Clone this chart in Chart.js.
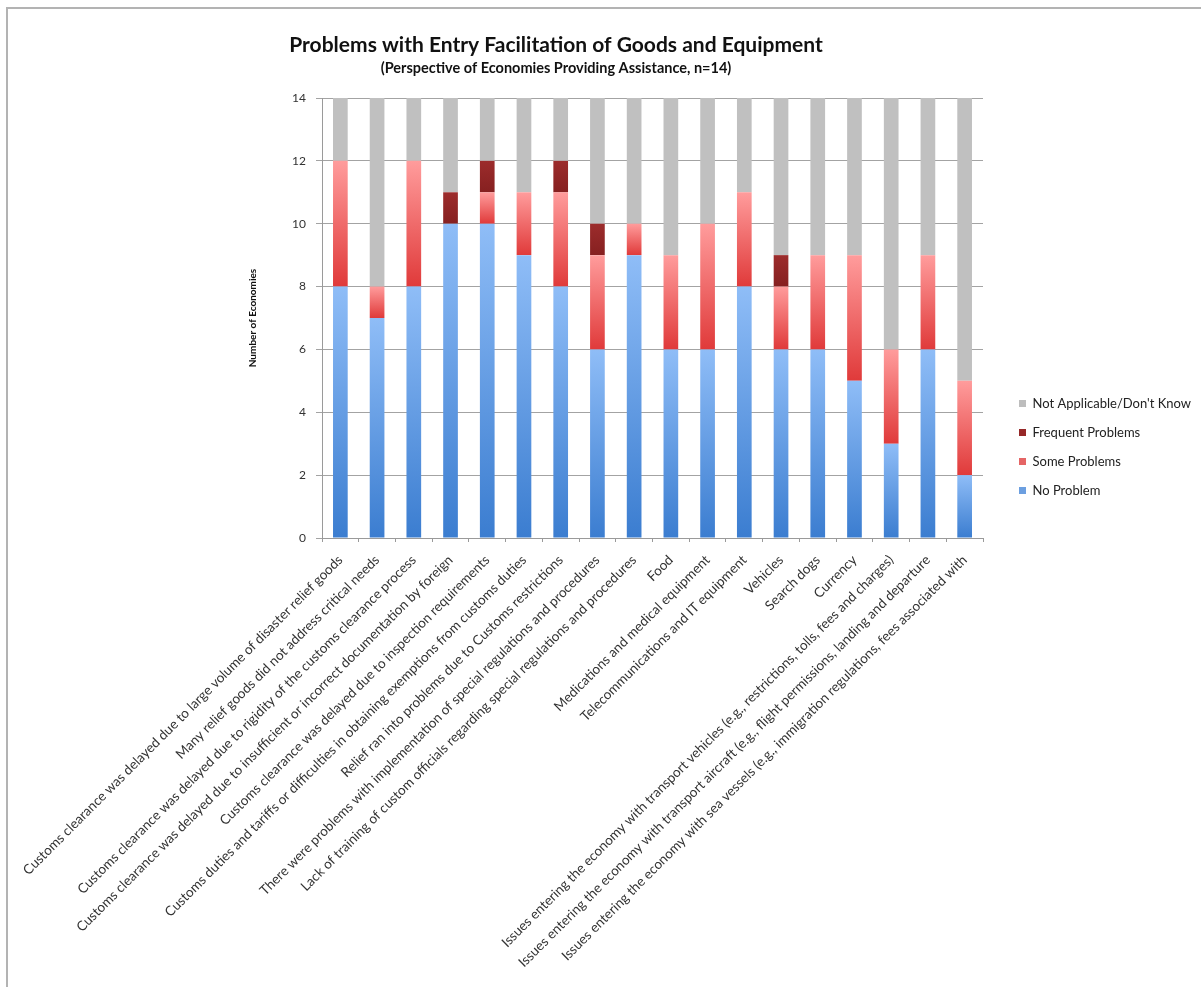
<!DOCTYPE html>
<html>
<head>
<meta charset="utf-8">
<title>Problems with Entry Facilitation of Goods and Equipment</title>
<script src="https://cdn.jsdelivr.net/npm/chart.js@4.4.1/dist/chart.umd.min.js"></script>
<style>
  html, body { margin: 0; padding: 0; background: #fff; overflow: hidden; }
  #wrap { position: relative; width: 1201px; height: 987px; }
  #frame {
    position: absolute; left: 6px; top: 7px; right: -10px; bottom: -10px;
    border-left: 2px solid #b3b3b3; border-top: 2px solid #b3b3b3;
    pointer-events: none;
  }
</style>
</head>
<body>
<div id="wrap">
  <canvas id="chart" width="1201" height="987"></canvas>
  <div id="frame"></div>
</div>
<script>
'use strict';

const chartTitle = 'Problems with Entry Facilitation of Goods and Equipment';
const chartSubtitle = '(Perspective of Economies Providing Assistance, n=14)';

const categories = [
  'Customs clearance was delayed due to large volume of disaster relief goods',
  'Many relief goods did not address critical needs',
  'Customs clearance was delayed due to rigidity of the customs clearance process',
  'Customs clearance was delayed due to insufficient or incorrect documentation by foreign',
  'Customs clearance was delayed due to inspection requirements',
  'Customs duties and tariffs or difficulties in obtaining exemptions from customs duties',
  'Relief ran into problems due to Customs restrictions',
  'There were problems with implementation of special regulations and procedures',
  'Lack of training of custom officials regarding special regulations and procedures',
  'Food',
  'Medications and medical equipment',
  'Telecommunications and IT equipment',
  'Vehicles',
  'Search dogs',
  'Currency',
  'Issues entering the economy with transport vehicles (e.g., restrictions, tolls, fees and charges)',
  'Issues entering the economy with transport aircraft (e.g., flight permissions, landing and departure',
  'Issues entering the economy with sea vessels (e.g., immigration regulations, fees associated with'
];

const noProblem        = [8, 7, 8, 10, 10, 9, 8, 6, 9, 6, 6, 8, 6, 6, 5, 3, 6, 2];
const someProblems     = [4, 1, 4, 0, 1, 2, 3, 3, 1, 3, 4, 3, 2, 3, 4, 3, 3, 3];
const frequentProblems = [0, 0, 0, 1, 1, 0, 1, 1, 0, 0, 0, 0, 1, 0, 0, 0, 0, 0];
const notApplicable    = [2, 6, 2, 3, 2, 3, 2, 4, 4, 5, 4, 3, 5, 5, 5, 8, 5, 9];

const yTicks = [0, 2, 4, 6, 8, 10, 12, 14];

const FONT = 'Lato, "Open Sans", sans-serif';

// vertical gradient spanning each stacked segment on its own
function segmentFill(light, dark) {
  return function (ctx) {
    const chart = ctx.chart;
    const y = chart.scales.y;
    if (ctx.type !== 'data' || !chart.chartArea || !y) return dark;
    let base = 0;
    for (let k = 0; k < ctx.datasetIndex; k++) {
      base += chart.data.datasets[k].data[ctx.dataIndex];
    }
    const top = y.getPixelForValue(base + ctx.raw);
    const bottom = y.getPixelForValue(base);
    if (!isFinite(top) || !isFinite(bottom) || top === bottom) return dark;
    const g = chart.ctx.createLinearGradient(0, top, 0, bottom);
    g.addColorStop(0, light);
    g.addColorStop(1, dark);
    return g;
  };
}

// title + subtitle drawn over the plot
const headline = {
  id: 'headline',
  afterDraw(chart) {
    const c = chart.ctx;
    c.save();
    c.textAlign = 'center';
    c.textBaseline = 'middle';
    c.fillStyle = '#111';
    c.font = 'bold 21px ' + FONT;
    c.fillText(chartTitle, 556, 45);
    c.font = 'bold 14.5px ' + FONT;
    c.fillText(chartSubtitle, 556, 68);
    c.restore();
  }
};

// move the legend off the plot edge, let it run to the canvas edge,
// and centre it a bit above the middle
const legendPlace = {
  id: 'legendPlace',
  afterLayout(chart) {
    const lg = chart.legend;
    if (!lg) return;
    lg.left += 20;
    lg.right = chart.width;
    lg.width = lg.right - lg.left;
    const dy = 447 - (lg.top + lg.bottom) / 2;
    lg.top += dy;
    lg.bottom += dy;
  }
};

const ctx = document.getElementById('chart').getContext('2d');
const chart = new Chart(ctx, {
  type: 'bar',
  data: {
    labels: categories,
    datasets: [
      {
        label: 'No Problem',
        data: noProblem,
        backgroundColor: segmentFill('#8fbdf7', '#3b7dd0'),
        legendColor: '#6c9fe0'
      },
      {
        label: 'Some Problems',
        data: someProblems,
        backgroundColor: segmentFill('#ff9c9c', '#e03a3a'),
        legendColor: '#e56565'
      },
      {
        label: 'Frequent Problems',
        data: frequentProblems,
        backgroundColor: segmentFill('#9c2c2c', '#862020'),
        legendColor: '#962828'
      },
      {
        label: "Not Applicable/Don't Know",
        data: notApplicable,
        backgroundColor: '#c0c0c0',
        legendColor: '#bdbdbd'
      }
    ]
  },
  options: {
    responsive: false,
    animation: false,
    datasets: {
      bar: {
        barPercentage: 0.4,
        categoryPercentage: 1,
        borderWidth: 0
      }
    },
    layout: {
      padding: { left: 243, top: 98, right: 48, bottom: 0 }
    },
    scales: {
      x: {
        stacked: true,
        grid: {
          drawOnChartArea: false,
          drawTicks: true,
          tickLength: 4,
          color: '#9a9a9a'
        },
        border: { color: '#9a9a9a', width: 1 },
        ticks: {
          autoSkip: false,
          maxRotation: 45,
          minRotation: 45,
          padding: 10,
          color: '#333',
          font: { family: FONT, size: 13.5 }
        },
        afterFit(scale) {
          scale.height = 449;
          scale.paddingLeft = 0;
          scale.paddingRight = 0;
        }
      },
      y: {
        stacked: true,
        min: 0,
        max: 14,
        afterBuildTicks(scale) {
          scale.ticks = yTicks.map(v => ({ value: v }));
        },
        grid: {
          color: '#a3a3a3',
          tickLength: 6
        },
        border: { color: '#9a9a9a', width: 1 },
        ticks: {
          padding: 10,
          color: '#333',
          font: { family: FONT, size: 12 }
        },
        title: {
          display: true,
          text: 'Number of Economies',
          color: '#111',
          font: { family: FONT, size: 10, weight: 'bold' }
        },
        afterFit(scale) {
          scale.width = 79;
          scale.paddingTop = 0;
          scale.paddingBottom = 0;
        }
      }
    },
    plugins: {
      legend: {
        display: true,
        position: 'right',
        reverse: true,
        maxWidth: 170,
        labels: {
          boxWidth: 7,
          boxHeight: 7,
          padding: 16,
          color: '#222',
          font: { family: FONT, size: 13 },
          generateLabels(c) {
            const items = Chart.defaults.plugins.legend.labels.generateLabels(c);
            items.forEach(item => {
              const col = c.data.datasets[item.datasetIndex].legendColor;
              item.fillStyle = col;
              item.strokeStyle = col;
              item.lineWidth = 0;
            });
            return items;
          }
        }
      },
      title: { display: false },
      tooltip: { enabled: false }
    }
  },
  plugins: [headline, legendPlace]
});
</script>
</body>
</html>
